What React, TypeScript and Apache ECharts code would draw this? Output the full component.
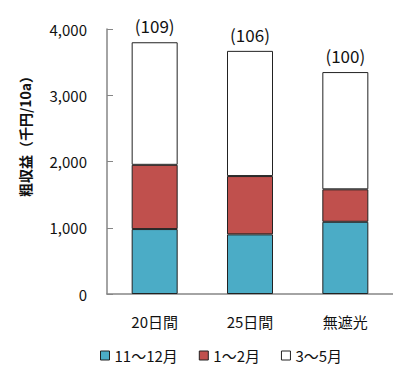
import React, { useEffect, useRef } from "react";
import * as echarts from "echarts";

const categories = ["20日間", "25日間", "無遮光"];
const novDec = [980, 900, 1090];
const janFeb = [970, 880, 490];
const marMay = [1850, 1890, 1770];
const indexLabels = ["(109)", "(106)", "(100)"];
const seriesNames = ["11～12月", "1～2月", "3～5月"];
const yTicks = [0, 1000, 2000, 3000, 4000];

const FONT = "'Noto Sans CJK JP', 'Noto Sans', sans-serif";

export default function App() {
  const ref = useRef<HTMLDivElement>(null);
  useEffect(() => {
    if (!ref.current) return;
    const chart = echarts.init(ref.current, undefined, { renderer: "svg" });
    const barStyle = (color: string) => ({
      color,
      borderColor: "#222",
      borderWidth: 1,
    });
    chart.setOption({
      animation: false,
      backgroundColor: "#fff",
      textStyle: { fontFamily: FONT },
      grid: { left: 107, top: 29, height: 265, width: 298, containLabel: false },
      xAxis: {
        type: "category",
        data: categories,
        axisLine: { lineStyle: { color: "#868686", width: 1.5 } },
        axisTick: { show: false },
        axisLabel: { color: "#111", fontSize: 15, margin: 20, fontFamily: FONT },
      },
      yAxis: {
        type: "value",
        min: yTicks[0],
        max: yTicks[yTicks.length - 1],
        interval: 1000,
        splitLine: { show: false },
        axisLine: { show: true, lineStyle: { color: "#868686", width: 1.5 } },
        axisTick: { show: true, inside: true, length: 6, lineStyle: { color: "#868686" } },
        axisLabel: {
          color: "#111",
          fontSize: 15,
          margin: 20,
          fontFamily: FONT,
          formatter: (v: number) => v.toLocaleString("en-US"),
        },
      },
      legend: {
        left: 95,
        top: 343,
        padding: 5,
        itemWidth: 9,
        itemHeight: 9,
        itemGap: 21,
        icon: "rect",
        textStyle: { color: "#111", fontSize: 15, lineHeight: 15, fontFamily: FONT },
        data: seriesNames.map((n) => ({
          name: n,
          itemStyle: { borderColor: "#222", borderWidth: 1 },
        })),
      },
      graphic: [
        {
          type: "text",
          x: 25,
          y: 133,
          rotation: Math.PI / 2,
          style: {
            text: "粗収益（千円/10a）",
            fontSize: 14,
            fontWeight: "bold",
            fontFamily: FONT,
            fill: "#111",
            textAlign: "center",
            textVerticalAlign: "middle",
          },
        },
      ],
      series: [
        {
          name: seriesNames[0],
          type: "bar",
          stack: "total",
          barWidth: 46,
          data: novDec,
          itemStyle: barStyle("#4BACC6"),
        },
        {
          name: seriesNames[1],
          type: "bar",
          stack: "total",
          barWidth: 46,
          data: janFeb,
          itemStyle: barStyle("#C0504D"),
        },
        {
          name: seriesNames[2],
          type: "bar",
          stack: "total",
          barWidth: 46,
          data: marMay,
          itemStyle: barStyle("#FFFFFF"),
          label: {
            show: true,
            position: "top",
            distance: 8,
            color: "#111",
            fontSize: 17,
            fontFamily: FONT,
            formatter: (p: any) => indexLabels[p.dataIndex],
          },
        },
      ],
    });
    return () => chart.dispose();
  }, []);
  return (
    <div
      ref={ref}
      style={{ position: "fixed", left: 0, top: 0, width: 393, height: 365 }}
    />
  );
}
